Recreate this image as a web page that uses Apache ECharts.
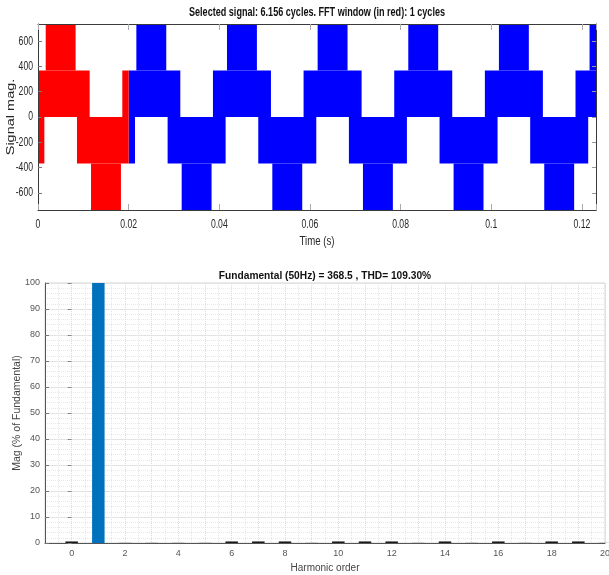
<!DOCTYPE html>
<html>
<head>
<meta charset="utf-8">
<script src="https://cdn.jsdelivr.net/npm/echarts@6/dist/echarts.min.js"></script>
<style>
html,body{margin:0;padding:0;background:#fff;}
#chart{width:609px;height:575px;}
</style>
</head>
<body>
<div id="chart"></div>
<script>
// ---------- DATA ----------
// Signal plot: dense PWM switching bands, each [tStart, tEnd, low, high]
const fftWindowBands = [ // red: first cycle (FFT window)
  [0.0000, 0.0114, 0, 367.5],
  [0.0186, 0.0200, 0, 367.5],
  [0.0017, 0.0083, 367.5, 735],
  [0.0000, 0.0014, -367.5, 0],
  [0.0086, 0.0200, -367.5, 0],
  [0.0117, 0.0183, -735, -367.5]
];
const restSignalBands = [ // blue: rest of the signal
  [0.0200, 0.0314, 0, 367.5], [0.0386, 0.0514, 0, 367.5], [0.0586, 0.0714, 0, 367.5],
  [0.0786, 0.0914, 0, 367.5], [0.0986, 0.1114, 0, 367.5], [0.1186, 0.12312, 0, 367.5],
  [0.0217, 0.0283, 367.5, 735], [0.0417, 0.0483, 367.5, 735], [0.0617, 0.0683, 367.5, 735],
  [0.0817, 0.0883, 367.5, 735], [0.1017, 0.1083, 367.5, 735], [0.1217, 0.12312, 367.5, 735],
  [0.0200, 0.0214, -367.5, 0], [0.0286, 0.0414, -367.5, 0], [0.0486, 0.0614, -367.5, 0],
  [0.0686, 0.0814, -367.5, 0], [0.0886, 0.1014, -367.5, 0], [0.1086, 0.1214, -367.5, 0],
  [0.0317, 0.0383, -735, -367.5], [0.0517, 0.0583, -735, -367.5], [0.0717, 0.0783, -735, -367.5],
  [0.0917, 0.0983, -735, -367.5], [0.1117, 0.1183, -735, -367.5]
];
const signalTimeRange = [0, 0.12312];
const signalMagRange = [-735, 735];
const signalXTicks = [0, 0.02, 0.04, 0.06, 0.08, 0.1, 0.12];
const signalYTicks = [-600, -400, -200, 0, 200, 400, 600];

// Spectrum plot
const harmonicOrders = [0, 1, 2, 3, 4, 5, 6, 7, 8, 9, 10, 11, 12, 13, 14, 15, 16, 17, 18, 19, 20];
const harmonicMag = [0.6, 100, 0.05, 0.05, 0.05, 0.05, 0.6, 0.6, 0.6, 0.05, 0.6, 0.6, 0.6, 0.05, 0.6, 0.05, 0.6, 0.05, 0.6, 0.6, 0.05];

const topTitle = 'Selected signal: 6.156 cycles. FFT window (in red): 1 cycles';
const bottomTitle = 'Fundamental (50Hz) = 368.5 , THD= 109.30%';
const signalXName = 'Time (s)';
const signalYName = 'Signal mag.';

// ---------- TEXT MEASURE (the signal plot uses horizontally squeezed text) ----------
const SANS = '"Liberation Sans", Arial, Helvetica, sans-serif';
const mctx = document.createElement('canvas').getContext('2d');
function textWidth(font, text) { mctx.font = font; return mctx.measureText(text).width; }
const SQUEEZE = 0.69;
const titleScale = Math.min(1, 256 / textWidth('bold 12.5px ' + SANS, topTitle));

// ---------- CHART ----------
const chart = echarts.init(document.getElementById('chart'), null, {renderer: 'canvas'});

function bandRender(color) {
  return function (params, api) {
    const p0 = api.coord([api.value(0), api.value(3)]);
    const p1 = api.coord([api.value(1), api.value(2)]);
    const rect = echarts.graphic.clipRectByRect(
      {x: p0[0], y: p0[1], width: p1[0] - p0[0], height: p1[1] - p0[1]},
      {x: params.coordSys.x, y: params.coordSys.y, width: params.coordSys.width, height: params.coordSys.height}
    );
    return rect && {type: 'rect', shape: rect, style: {fill: color}};
  };
}

const axisDark = '#3a3a3a';
const fmtTime = v => String(parseFloat(v.toFixed(4)));

const baseGraphic = [
  {id: 'topTitle', type: 'text', x: 317, y: 13, scaleX: titleScale,
   style: {text: topTitle, align: 'center', verticalAlign: 'middle', font: 'bold 12.5px ' + SANS, fill: '#111'}},
  {id: 'bottomTitle', type: 'text', x: 325, y: 276,
   style: {text: bottomTitle, align: 'center', verticalAlign: 'middle', font: 'bold 10.2px ' + SANS, fill: '#111'}}
];

const option = {
  animation: false,
  backgroundColor: '#fff',
  grid: [
    {left: 38, top: 24, width: 558, height: 186, show: false, outerBoundsMode: 'none', containLabel: false},
    {left: 45, top: 283, width: 560, height: 260, show: true, borderColor: '#d6d6d6', borderWidth: 1,
     backgroundColor: 'transparent', outerBoundsMode: 'none', containLabel: false}
  ],
  xAxis: [
    {type: 'value', gridIndex: 0, min: signalTimeRange[0], max: signalTimeRange[1], interval: 0.02, z: 5,
     axisLine: {show: true, onZero: false, lineStyle: {color: axisDark, width: 1}},
     axisTick: {show: true, inside: true, length: 6, lineStyle: {color: '#aaa'}},
     axisLabel: {show: false}, splitLine: {show: false}},
    {type: 'value', gridIndex: 0, position: 'top', min: signalTimeRange[0], max: signalTimeRange[1], interval: 0.02, z: 5,
     axisLine: {show: true, onZero: false, lineStyle: {color: axisDark, width: 1}},
     axisTick: {show: true, inside: true, length: 6, lineStyle: {color: '#aaa'}},
     axisLabel: {show: false}, splitLine: {show: false}},
    {type: 'value', gridIndex: 1, min: -1, max: 20, interval: 1,
     name: 'Harmonic order', nameLocation: 'middle', nameGap: 20, nameMoveOverlap: false,
     nameTextStyle: {fontFamily: SANS, fontSize: 10, color: '#444'},
     axisLine: {show: true, onZero: false, lineStyle: {color: '#555', width: 1}},
     axisTick: {show: false},
     axisLabel: {formatter: v => (v % 2 === 0 ? String(v) : ''), margin: 6, fontFamily: SANS, fontSize: 9, color: '#555'},
     splitLine: {show: true, lineStyle: {color: '#dcdcdc', type: 'dotted', width: 1}},
     minorTick: {show: false, splitNumber: 2},
     minorSplitLine: {show: true, lineStyle: {color: '#e6e6e6', type: 'dotted', width: 1}}}
  ],
  yAxis: [
    {type: 'value', gridIndex: 0, min: signalMagRange[0], max: signalMagRange[1], z: 5,
     axisLine: {show: true, onZero: false, lineStyle: {color: axisDark, width: 1}},
     axisTick: {show: true, inside: true, length: 4, customValues: signalYTicks, lineStyle: {color: '#777'}},
     axisLabel: {show: false}, splitLine: {show: false}},
    {type: 'value', gridIndex: 0, position: 'right', min: signalMagRange[0], max: signalMagRange[1], z: 5,
     axisLine: {show: true, onZero: false, lineStyle: {color: axisDark, width: 1}},
     axisTick: {show: true, inside: true, length: 4, customValues: signalYTicks, lineStyle: {color: '#999'}},
     axisLabel: {show: false}, splitLine: {show: false}},
    {type: 'value', gridIndex: 1, min: 0, max: 100, interval: 10,
     name: 'Mag (% of Fundamental)', nameLocation: 'middle', nameGap: 22, nameMoveOverlap: false,
     nameTextStyle: {fontFamily: SANS, fontSize: 10.5, color: '#444'},
     axisLine: {show: true, onZero: false, lineStyle: {color: '#555', width: 1}},
     axisTick: {show: true, inside: true, length: 4, lineStyle: {color: '#777'}},
     axisLabel: {margin: 5, fontFamily: SANS, fontSize: 9, color: '#555'},
     splitLine: {show: true, lineStyle: {color: '#e3e3e3', width: 1}},
     minorTick: {show: false, splitNumber: 5},
     minorSplitLine: {show: true, lineStyle: {color: '#e8e8e8', type: 'dotted', width: 1}}},
    {type: 'value', gridIndex: 1, position: 'right', min: 0, max: 100, interval: 10,
     axisLine: {show: false},
     axisTick: {show: true, inside: true, length: 4, lineStyle: {color: '#888'}},
     axisLabel: {show: false}, splitLine: {show: false}}
  ],
  graphic: baseGraphic,
  series: [
    {type: 'custom', xAxisIndex: 0, yAxisIndex: 0, renderItem: bandRender('#0000ff'),
     encode: {x: [0, 1], y: [2, 3]}, data: restSignalBands, z: 2},
    {type: 'custom', xAxisIndex: 0, yAxisIndex: 0, renderItem: bandRender('#ff0000'),
     encode: {x: [0, 1], y: [2, 3]}, data: fftWindowBands, z: 3},
    {type: 'bar', xAxisIndex: 2, yAxisIndex: 2, barWidth: 12.5,
     data: harmonicOrders.map((h, i) => [h, harmonicMag[i]]),
     itemStyle: {color: p => (p.value[1] >= 5 ? '#0072bd' : '#1a1a1a')}}
  ]
};
chart.setOption(option);

// Signal-plot tick labels and axis names, placed through the library's own scales
const finder = {xAxisIndex: 0, yAxisIndex: 0};
const labelEls = [];
signalXTicks.forEach((v, i) => {
  const p = chart.convertToPixel(finder, [v, signalMagRange[0]]);
  labelEls.push({id: 'xl' + i, type: 'text', x: p[0], y: p[1] + 14.5, scaleX: SQUEEZE,
    style: {text: fmtTime(v), align: 'center', verticalAlign: 'middle', font: '12.5px ' + SANS, fill: '#262626'}});
});
signalYTicks.forEach((v, i) => {
  const p = chart.convertToPixel(finder, [signalTimeRange[0], v]);
  labelEls.push({id: 'yl' + i, type: 'text', x: p[0] - 5, y: p[1], scaleX: SQUEEZE,
    style: {text: String(v), align: 'right', verticalAlign: 'middle', font: '12.5px ' + SANS, fill: '#262626'}});
});
const xMid = chart.convertToPixel(finder, [(signalTimeRange[0] + signalTimeRange[1]) / 2, signalMagRange[0]]);
const yMid = chart.convertToPixel(finder, [signalTimeRange[0], (signalMagRange[0] + signalMagRange[1]) / 2]);
labelEls.push({id: 'xname', type: 'text', x: xMid[0], y: xMid[1] + 32, scaleX: 0.77,
  style: {text: signalXName, align: 'center', verticalAlign: 'middle', font: '12.5px ' + SANS, fill: '#262626'}});
labelEls.push({id: 'yname', type: 'text', x: yMid[0] - 27, y: yMid[1], rotation: Math.PI / 2, scaleY: 0.75,
  style: {text: signalYName, align: 'center', verticalAlign: 'middle', font: '14.5px ' + SANS, fill: '#262626'}});
chart.setOption({graphic: baseGraphic.concat(labelEls)});
</script>
</body>
</html>
